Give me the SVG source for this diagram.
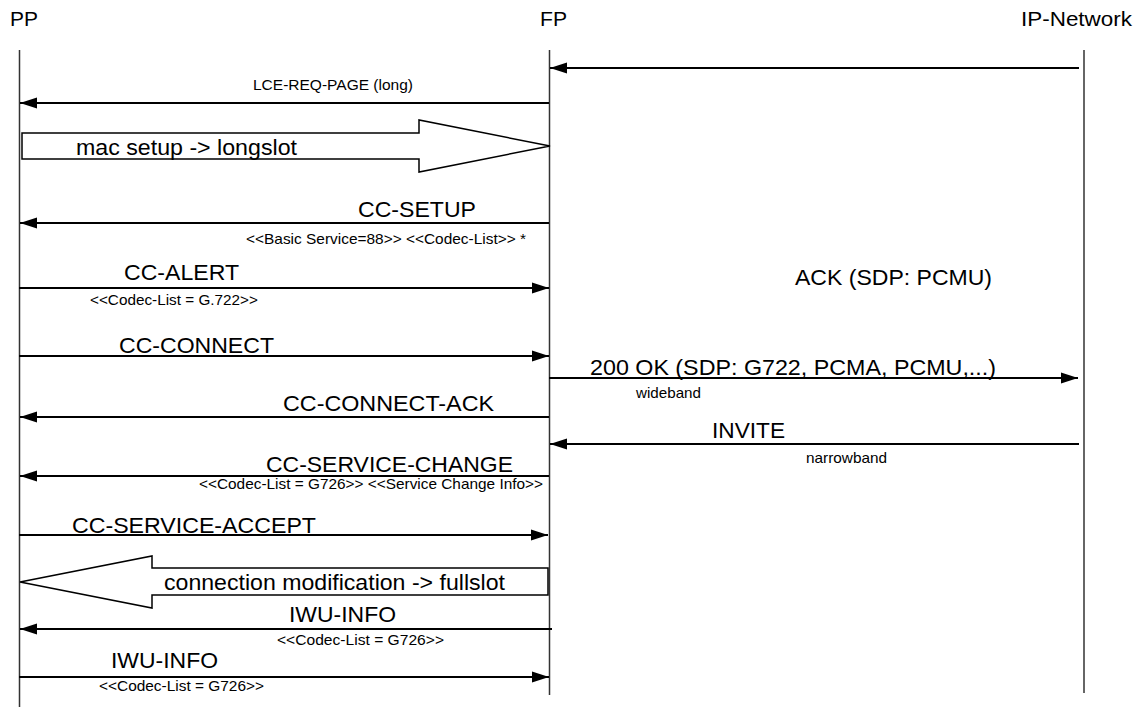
<svg xmlns="http://www.w3.org/2000/svg" width="1142" height="707" viewBox="0 0 1142 707">
<defs>
<marker id="ah" markerUnits="userSpaceOnUse" markerWidth="17" markerHeight="12" refX="17" refY="6" orient="auto">
<path d="M0,0.5 L17,6 L0,11.5 z" fill="#000"/>
</marker>
<style>
.t{font-family:"Liberation Sans",Arial,sans-serif;fill:#000}
.h{font-size:20px}
.b{font-size:21.5px}
.s{font-size:15px}
.life{stroke:#333;stroke-width:1.5;fill:none}
.msg{stroke:#000;stroke-width:2;fill:none;marker-end:url(#ah)}
.blk{fill:#fff;stroke:#000;stroke-width:1.5}
</style>
</defs>
<rect width="1142" height="707" fill="#fff"/>
<g id="PP">
<text class="t h" x="10" y="26" textLength="28" lengthAdjust="spacingAndGlyphs">PP</text>
<line class="life" x1="19.5" y1="50" x2="19.5" y2="707"/>
</g>
<g id="FP">
<text class="t h" x="540" y="26" textLength="27" lengthAdjust="spacingAndGlyphs">FP</text>
<line class="life" x1="549.5" y1="50" x2="549.5" y2="695"/>
</g>
<g id="IP-Network">
<text class="t h" x="1021" y="26" textLength="111" lengthAdjust="spacingAndGlyphs">IP-Network</text>
<line class="life" x1="1084" y1="50" x2="1084" y2="693"/>
</g>
<g id="connectors">
<line class="msg" x1="1079" y1="68" x2="550" y2="68"/>
<line class="msg" x1="549" y1="103" x2="20" y2="103"/>
<line class="msg" x1="549" y1="223" x2="20" y2="223"/>
<line class="msg" x1="19" y1="288" x2="549" y2="288"/>
<line class="msg" x1="19" y1="356" x2="549" y2="356"/>
<line class="msg" x1="549" y1="378" x2="1078" y2="378"/>
<line class="msg" x1="549" y1="417" x2="20" y2="417"/>
<line class="msg" x1="1079" y1="444" x2="550" y2="444"/>
<line class="msg" x1="549" y1="476" x2="20" y2="476"/>
<line class="msg" x1="19" y1="535" x2="548" y2="535"/>
<line class="msg" x1="552" y1="629" x2="20" y2="629"/>
<line class="msg" x1="19" y1="677" x2="549" y2="677"/>
</g>
<g id="mac-setup">
<polygon class="blk" points="22,133 419,133 419,120 550,146 419,172 419,159 22,159"/>
<text class="t b" x="76" y="155" textLength="221" lengthAdjust="spacingAndGlyphs">mac setup -&gt; longslot</text>
</g>
<g id="connection-modification">
<polygon class="blk" points="548,568 152,568 152,556 20,582 152,608 152,595 548,595"/>
<text class="t b" x="164" y="590" textLength="341" lengthAdjust="spacingAndGlyphs">connection modification -&gt; fullslot</text>
</g>
<g id="labels">
<text class="t s" x="253" y="90" textLength="160" lengthAdjust="spacingAndGlyphs">LCE-REQ-PAGE (long)</text>
<text class="t b" x="358" y="217" textLength="118" lengthAdjust="spacingAndGlyphs">CC-SETUP</text>
<text class="t s" x="246" y="244" textLength="280" lengthAdjust="spacingAndGlyphs">&lt;&lt;Basic Service=88&gt;&gt; &lt;&lt;Codec-List&gt;&gt; *</text>
<text class="t b" x="124" y="280" textLength="115" lengthAdjust="spacingAndGlyphs">CC-ALERT</text>
<text class="t s" x="90" y="305" textLength="168" lengthAdjust="spacingAndGlyphs">&lt;&lt;Codec-List = G.722&gt;&gt;</text>
<text class="t b" x="795" y="285" textLength="197" lengthAdjust="spacingAndGlyphs">ACK (SDP: PCMU)</text>
<text class="t b" x="119" y="353" textLength="155" lengthAdjust="spacingAndGlyphs">CC-CONNECT</text>
<text class="t b" x="590" y="375" textLength="406" lengthAdjust="spacingAndGlyphs">200 OK (SDP: G722, PCMA, PCMU,...)</text>
<text class="t s" x="636" y="398" textLength="65" lengthAdjust="spacingAndGlyphs">wideband</text>
<text class="t b" x="283" y="411" textLength="211" lengthAdjust="spacingAndGlyphs">CC-CONNECT-ACK</text>
<text class="t b" x="712" y="438" textLength="73" lengthAdjust="spacingAndGlyphs">INVITE</text>
<text class="t s" x="806" y="463" textLength="81" lengthAdjust="spacingAndGlyphs">narrowband</text>
<text class="t b" x="266" y="472" textLength="247" lengthAdjust="spacingAndGlyphs">CC-SERVICE-CHANGE</text>
<text class="t s" x="199" y="489" textLength="344" lengthAdjust="spacingAndGlyphs">&lt;&lt;Codec-List = G726&gt;&gt; &lt;&lt;Service Change Info&gt;&gt;</text>
<text class="t b" x="72" y="533" textLength="244" lengthAdjust="spacingAndGlyphs">CC-SERVICE-ACCEPT</text>
<text class="t b" x="289" y="622" textLength="107" lengthAdjust="spacingAndGlyphs">IWU-INFO</text>
<text class="t s" x="277" y="645" textLength="167" lengthAdjust="spacingAndGlyphs">&lt;&lt;Codec-List = G726&gt;&gt;</text>
<text class="t b" x="111" y="668" textLength="107" lengthAdjust="spacingAndGlyphs">IWU-INFO</text>
<text class="t s" x="99" y="691" textLength="165" lengthAdjust="spacingAndGlyphs">&lt;&lt;Codec-List = G726&gt;&gt;</text>
</g>
</svg>
